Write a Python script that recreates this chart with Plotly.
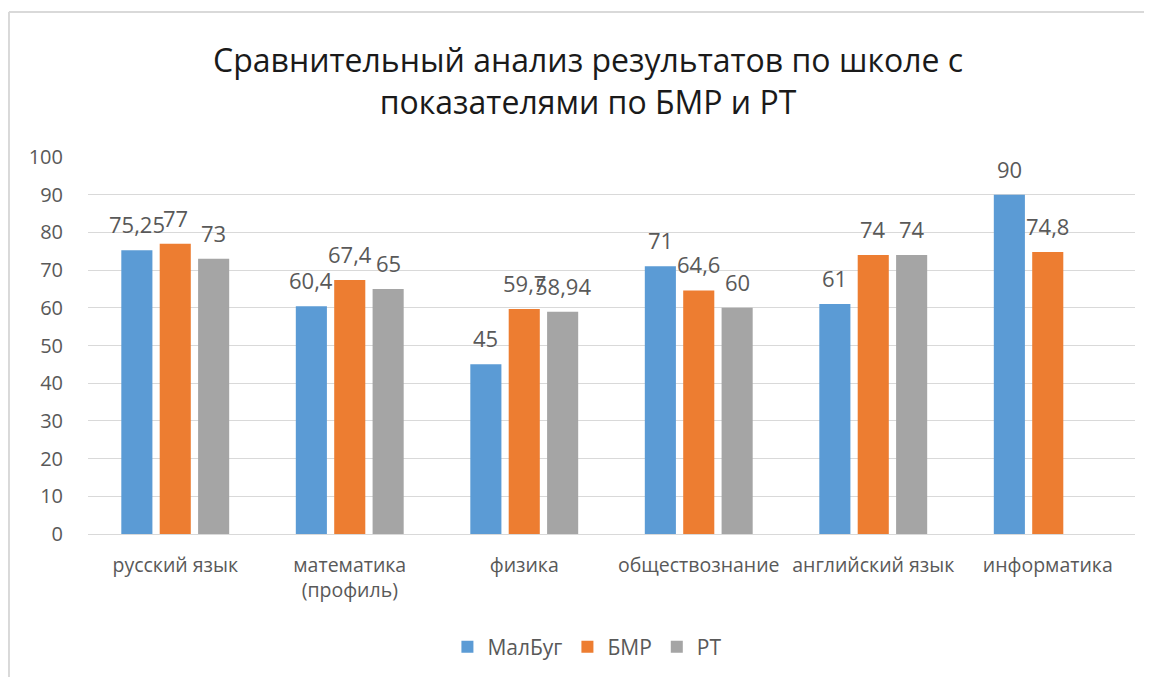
import plotly.graph_objects as go

categories = ["русский язык", "математика<br>(профиль)", "физика", "обществознание", "английский язык", "информатика"]
malbug = [75.25, 60.4, 45, 71, 61, 90]
bmr = [77, 67.4, 59.7, 64.6, 74, 74.8]
rt = [73, 65, 58.94, 60, 74, None]

series = [("МалБуг", malbug, "#5B9BD5"), ("БМР", bmr, "#ED7D31"), ("РТ", rt, "#A5A5A5")]

FONT = "Open Sans"
TXT = "#595959"

fig = go.Figure()
offsets = [-38.4, 0, 38.4]
annotations = []
for (name, vals, col), off in zip(series, offsets):
    fig.add_trace(go.Bar(name=name, x=categories, y=vals, marker_color=col,
                         marker_line_width=0))
    for c, v in zip(categories, vals):
        if v is None:
            continue
        annotations.append(dict(x=c, y=v, xref="x", yref="y", xshift=off, yshift=9,
                                text=str(v).replace(".", ","), showarrow=False,
                                yanchor="bottom", font=dict(family=FONT, size=22, color=TXT)))

annotations.append(dict(x=0.4776, y=1.204, xref="paper", yref="paper", showarrow=False,
                        text="Сравнительный анализ результатов по школе с<br>показателями по БМР и РТ",
                        font=dict(family=FONT, size=32, color="#1a1a1a"), align="center",
                        xanchor="center", yanchor="middle"))

fig.update_layout(
    width=1152, height=677,
    margin=dict(l=80, r=25, t=149, b=151, autoexpand=False),
    paper_bgcolor="white", plot_bgcolor="white",
    barmode="group", bargap=0.34, bargroupgap=0.19,
    annotations=annotations,
    showlegend=True,
    legend=dict(orientation="h", x=0.477, xanchor="center", y=-0.30, yanchor="middle",
                font=dict(family=FONT, size=21, color=TXT), itemwidth=30),
    font=dict(family=FONT, color=TXT),
    shapes=[
        dict(type="line", xref="paper", yref="paper", x0=-0.0755, x1=1.05, y0=1.3846, y1=1.3846,
             line=dict(color="#D9D9D9", width=2)),
        dict(type="line", xref="paper", yref="paper", x0=-0.0755, x1=-0.0755, y0=-0.45, y1=1.3846,
             line=dict(color="#D9D9D9", width=2)),
    ],
)
fig.update_yaxes(range=[0, 100], dtick=10, showgrid=True, gridcolor="#D9D9D9", gridwidth=1,
                 zeroline=True, zerolinecolor="#D9D9D9", zerolinewidth=1, showline=False,
                 tickfont=dict(family=FONT, size=20, color=TXT), ticklabelstandoff=24)
fig.update_xaxes(showgrid=False, showline=False, tickangle=0, automargin=False,
                 tickfont=dict(family=FONT, size=19.5, color=TXT), ticklabelstandoff=17)

fig.write_html("out.html")
